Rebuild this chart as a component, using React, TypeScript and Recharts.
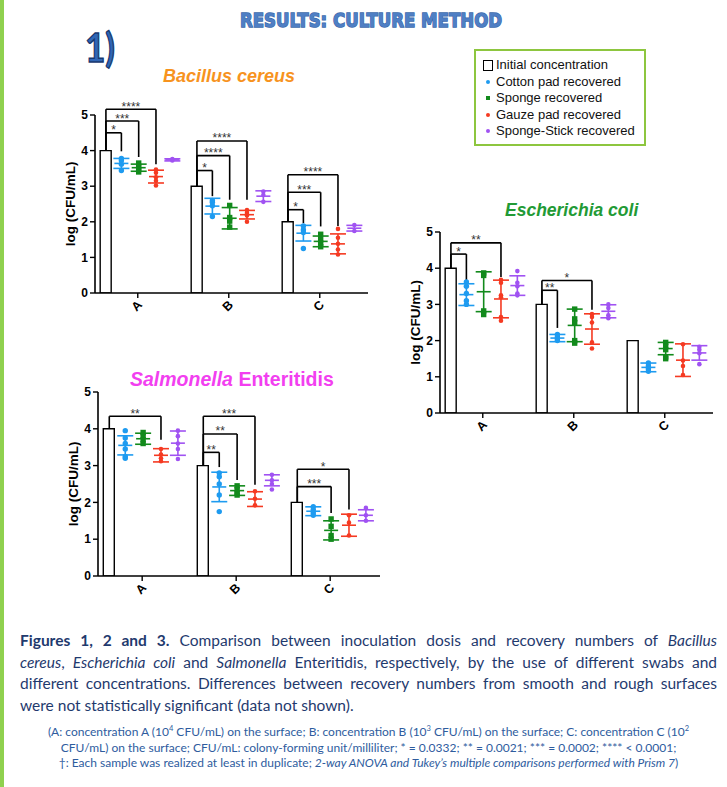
import React from 'react';
import { ComposedChart, Bar, Scatter, ErrorBar, XAxis, YAxis, ReferenceLine } from 'recharts';

const CATEGORIES = ['A', 'B', 'C'];
const INITIAL = [4, 3, 2];
const SWABS = ['Cotton pad recovered', 'Sponge recovered', 'Gauze pad recovered', 'Sponge-Stick recovered'];
const Y_TICKS = [0, 1, 2, 3, 4, 5];

// Bacillus cereus (replicates per concentration A, B, C)
const BC_COTTON = [[3.78, 3.72, 3.62, 3.44], [2.6, 2.55, 2.45, 2.15], [1.88, 1.78, 1.7, 1.25]];
const BC_COTTON_MEAN = [3.64, 2.44, 1.68];
const BC_COTTON_SD = [0.14, 0.22, 0.22];
const BC_SPONGE = [[3.65, 3.55, 3.48, 3.4], [2.46, 2.12, 2.02, 1.85], [1.65, 1.5, 1.4, 1.3]];
const BC_SPONGE_MEAN = [3.52, 2.1, 1.45];
const BC_SPONGE_SD = [0.1, 0.3, 0.15];
const BC_GAUZE = [[3.47, 3.38, 3.25, 3.15, 3.02], [2.33, 2.25, 2.18, 2.0], [1.8, 1.55, 1.38, 1.22, 1.08]];
const BC_GAUZE_MEAN = [3.27, 2.2, 1.38];
const BC_GAUZE_SD = [0.18, 0.12, 0.28];
const BC_STICK = [[3.76, 3.72], [2.85, 2.75, 2.56], [1.91, 1.74]];
const BC_STICK_MEAN = [3.74, 2.72, 1.82];
const BC_STICK_SD = [0.03, 0.15, 0.08];

// Escherichia coli
const EC_COTTON = [[3.62, 3.5, 3.3, 3.1, 3.0], [2.17, 2.1, 2.05, 2.0], [1.38, 1.3, 1.22, 1.15]];
const EC_COTTON_MEAN = [3.27, 2.07, 1.26];
const EC_COTTON_SD = [0.3, 0.1, 0.12];
const EC_SPONGE = [[3.87, 3.8, 2.82, 2.72], [2.87, 2.6, 2.5, 2.0, 1.93], [1.95, 1.85, 1.75, 1.55, 1.5]];
const EC_SPONGE_MEAN = [3.35, 2.42, 1.78];
const EC_SPONGE_SD = [0.55, 0.45, 0.17];
const EC_GAUZE = [[3.68, 3.6, 3.25, 3.2, 2.65, 2.55], [2.73, 2.65, 2.5, 1.95, 1.78], [1.9, 1.45, 1.3, 1.05]];
const EC_GAUZE_MEAN = [3.15, 2.32, 1.46];
const EC_GAUZE_SD = [0.52, 0.42, 0.45];
const EC_STICK = [[3.92, 3.6, 3.5, 3.3, 3.25], [3.0, 2.9, 2.7, 2.62], [1.83, 1.75, 1.65, 1.35]];
const EC_STICK_MEAN = [3.52, 2.81, 1.66];
const EC_STICK_SD = [0.27, 0.18, 0.2];

// Salmonella Enteritidis
const SE_COTTON = [[3.95, 3.75, 3.6, 3.45, 3.25, 3.2], [2.8, 2.7, 2.5, 2.2, 1.75], [1.88, 1.8, 1.72, 1.65]];
const SE_COTTON_MEAN = [3.55, 2.42, 1.76];
const SE_COTTON_SD = [0.26, 0.4, 0.12];
const SE_SPONGE = [[3.9, 3.8, 3.7, 3.6], [2.45, 2.35, 2.25, 2.2], [1.55, 1.35, 1.1, 1.0]];
const SE_SPONGE_MEAN = [3.73, 2.32, 1.24];
const SE_SPONGE_SD = [0.15, 0.13, 0.26];
const SE_GAUZE = [[3.45, 3.3, 3.2, 3.12], [2.3, 2.1, 1.92], [1.65, 1.45, 1.1]];
const SE_GAUZE_MEAN = [3.28, 2.09, 1.38];
const SE_GAUZE_SD = [0.18, 0.2, 0.3];
const SE_STICK = [[3.95, 3.8, 3.6, 3.45, 3.18], [2.75, 2.6, 2.5, 2.35], [1.85, 1.65, 1.5]];
const SE_STICK_MEAN = [3.61, 2.6, 1.65];
const SE_STICK_SD = [0.33, 0.15, 0.15];

// significance brackets: group, swab, bracket height, drop end, label
const BC_SIG = [
  { g: 0, s: 0, top: 4.5, end: 3.98, label: '*' },
  { g: 0, s: 1, top: 4.83, end: 3.82, label: '***' },
  { g: 0, s: 2, top: 5.16, end: 3.62, label: '****' },
  { g: 1, s: 0, top: 3.44, end: 2.72, label: '*' },
  { g: 1, s: 1, top: 3.86, end: 2.62, label: '****' },
  { g: 1, s: 2, top: 4.27, end: 2.62, label: '****' },
  { g: 2, s: 0, top: 2.34, end: 1.96, label: '*' },
  { g: 2, s: 1, top: 2.83, end: 1.87, label: '***' },
  { g: 2, s: 2, top: 3.32, end: 1.88, label: '****' },
];
const EC_SIG = [
  { g: 0, s: 0, top: 4.39, end: 3.64, label: '*' },
  { g: 0, s: 2, top: 4.7, end: 3.76, label: '**' },
  { g: 1, s: 0, top: 3.39, end: 2.35, label: '**' },
  { g: 1, s: 2, top: 3.66, end: 2.85, label: '*' },
];
const SE_SIG = [
  { g: 0, s: 2, top: 4.34, end: 3.7, label: '**' },
  { g: 1, s: 0, top: 3.36, end: 2.96, label: '**' },
  { g: 1, s: 1, top: 3.86, end: 2.61, label: '**' },
  { g: 1, s: 2, top: 4.34, end: 2.48, label: '***' },
  { g: 2, s: 1, top: 2.43, end: 1.71, label: '***' },
  { g: 2, s: 2, top: 2.9, end: 1.81, label: '*' },
];

const COLORS = ['#1E9BF0', '#128A1C', '#F53A22', '#A052F2'];
const FONT = '"Liberation Sans", Arial, sans-serif';
const GROUP = 5;
const SLOT_BAR = 0.6;
const SLOT_SWAB = [1.45, 2.4, 3.35, 4.25];
const SLOT_TICK = 2.35;
const X_TICKS = CATEGORIES.map((_, g) => g * GROUP + SLOT_TICK);

type Sig = { g: number; s: number; top: number; end: number; label: string };

const marker = (s: number) => (p: any) => {
  const { cx, cy } = p;
  if (s === 1) return <rect x={cx - 2.7} y={cy - 2.7} width={5.4} height={5.4} fill={COLORS[s]} />;
  return <circle cx={cx} cy={cy} r={s === 0 ? 2.7 : 2.3} fill={COLORS[s]} />;
};

const meanLine = (s: number) => (p: any) => (
  <line x1={p.cx - 7} x2={p.cx + 7} y1={p.cy} y2={p.cy} stroke={COLORS[s]} strokeWidth={1.6} />
);

const XTick = (p: any) => (
  <g transform={`translate(${p.x - 1},${p.y + 6})`}>
    <text textAnchor="middle" dominantBaseline="central" transform="rotate(-45)" fontSize={12.5}
      fontWeight={700} fill="#000" fontFamily={FONT}>
      {CATEGORIES[Math.floor(p.payload.value / GROUP)]}
    </text>
  </g>
);

const starLabel = (text: string) => (p: any) => {
  const vb = p.viewBox || {};
  return (
    <text x={vb.x + (vb.width || 0) / 2} y={vb.y + 1.5} textAnchor="middle" fontSize={12}
      fontFamily={FONT} fill="#333">
      {text}
    </text>
  );
};

function SwabChart(props: {
  left: number; top: number; width: number; height: number;
  points: number[][][]; means: number[][]; sds: number[][]; sig: Sig[];
}) {
  const { left, top, width, height, points, means, sds, sig } = props;
  const barRows = INITIAL.map((v, g) => ({ x: g * GROUP + SLOT_BAR, y: v }));
  const brackets: React.ReactNode[] = [];
  sig.forEach((b, i) => {
    const x0 = b.g * GROUP + SLOT_BAR;
    const x1 = b.g * GROUP + SLOT_SWAB[b.s];
    const common = { stroke: '#000', strokeWidth: 1.6, ifOverflow: 'visible' as const };
    brackets.push(<ReferenceLine key={`a${i}`} {...common} segment={[{ x: x0, y: INITIAL[b.g] }, { x: x0, y: b.top }]} />);
    brackets.push(
      <ReferenceLine key={`b${i}`} {...common} segment={[{ x: x0, y: b.top }, { x: x1, y: b.top }]}
        label={starLabel(b.label)} />
    );
    brackets.push(<ReferenceLine key={`c${i}`} {...common} segment={[{ x: x1, y: b.top }, { x: x1, y: b.end }]} />);
  });

  return (
    <div style={{ position: 'absolute', left, top }}>
      <ComposedChart width={width} height={height} data={barRows}
        margin={{ top: 25, right: 5, bottom: 0, left: 0 }} style={{ fontFamily: FONT }}>
        <XAxis type="number" dataKey="x" domain={[0, 15]} allowDataOverflow ticks={X_TICKS} interval={0}
          tick={(p: any) => <XTick {...p} />} tickSize={5} height={30}
          axisLine={{ stroke: '#000', strokeWidth: 1.6 }} tickLine={{ stroke: '#000', strokeWidth: 1.4 }} />
        <YAxis type="number" dataKey="y" domain={[0, 5]} allowDataOverflow ticks={Y_TICKS} interval={0}
          width={50} tickSize={5} tick={{ fontSize: 12, fontWeight: 700, fill: '#000', fontFamily: FONT }}
          axisLine={{ stroke: '#000', strokeWidth: 1.6 }} tickLine={{ stroke: '#000', strokeWidth: 1.4 }}
          label={{ value: 'log (CFU/mL)', angle: -90, position: 'center', fontSize: 13.5, fontWeight: 700, fill: '#000', fontFamily: FONT }} />
        <Bar dataKey="y" barSize={11} fill="#fff" stroke="#000" strokeWidth={1.4} isAnimationActive={false} />
        {SWABS.map((name, s) => (
          <Scatter key={`p${s}`} name={name} dataKey="y" isAnimationActive={false} shape={marker(s)}
            data={points[s].flatMap((vals, g) => vals.map((v) => ({ x: g * GROUP + SLOT_SWAB[s], y: v })))} />
        ))}
        {SWABS.map((name, s) => (
          <Scatter key={`m${s}`} name={`${name} mean`} dataKey="y" isAnimationActive={false} shape={meanLine(s)}
            data={means[s].map((m, g) => ({ x: g * GROUP + SLOT_SWAB[s], y: m, sd: sds[s][g] }))}>
            <ErrorBar dataKey="sd" direction="y" width={8} stroke={COLORS[s]} strokeWidth={1.6} />
          </Scatter>
        ))}
        {brackets}
      </ComposedChart>
    </div>
  );
}

const title = (left: number, top: number, size: number, color: string, children: React.ReactNode) => (
  <div style={{ position: 'absolute', left, top, fontSize: size, lineHeight: `${size * 1.15}px`, color, fontWeight: 700, fontFamily: FONT, whiteSpace: 'nowrap' }}>
    {children}
  </div>
);

const CAPTION_COLOR = '#1F3A6E';
const NOTE_COLOR = '#2E5C9E';

export default function App() {
  const capLine = { width: 697, textAlign: 'justify' as const, textAlignLast: 'justify' as const, height: 21.7 };
  const sup = { fontSize: 7.5 };
  return (
    <div style={{ position: 'absolute', left: 0, top: 0, width: 727, height: 787, background: '#fff', overflow: 'hidden' }}>
      <div style={{ position: 'absolute', left: 0, top: 0, width: 4, height: 787, background: '#8FD14F' }} />

      <svg width={727} height={80} style={{ position: 'absolute', left: 0, top: 0 }}>
        <text x={240} y={27} fontSize={20} fontWeight={700} fontFamily='"DejaVu Sans", sans-serif' textLength={262}
          lengthAdjust="spacingAndGlyphs" fill="#4F7FC4" stroke="#3A67AA" strokeWidth={1.4} paintOrder="stroke">
          RESULTS: CULTURE METHOD
        </text>
        <text x={85} y={62} fontSize={41} fontWeight={700} fontFamily="Lato, sans-serif" textLength={30}
          lengthAdjust="spacingAndGlyphs" fill="#3066B5" stroke="#17386F" strokeWidth={1.4}>
          1)
        </text>
      </svg>

      {title(163, 66, 18, '#F7931E', <i>Bacillus cereus</i>)}
      {title(505, 200, 17.5, '#229A35', <i>Escherichia coli</i>)}
      {title(130, 368, 19.5, '#F23FF0', <><i>Salmonella</i> Enteritidis</>)}

      <div style={{ position: 'absolute', left: 474, top: 49, width: 168, height: 93, border: '2px solid #8DC63F', fontFamily: FONT, fontSize: 13, color: '#111' }}>
        {['Initial concentration', ...SWABS].map((name, i) => (
          <div key={name} style={{ position: 'absolute', left: 20, top: 6 + i * 16.6, lineHeight: '16px', whiteSpace: 'nowrap' }}>
            <span style={{ position: 'absolute', left: i === 0 ? -13 : -10, top: i === 0 ? 3 : 6 }}>
              {i === 0 ? (
                <span style={{ display: 'block', width: 8, height: 9, border: '1px solid #000', background: '#fff' }} />
              ) : (
                <span style={{ display: 'block', width: 4, height: 4, borderRadius: i === 2 ? 0 : 2, background: COLORS[i - 1] }} />
              )}
            </span>
            {name}
          </div>
        ))}
      </div>

      <SwabChart left={45} top={90} width={328} height={233}
        points={[BC_COTTON, BC_SPONGE, BC_GAUZE, BC_STICK]}
        means={[BC_COTTON_MEAN, BC_SPONGE_MEAN, BC_GAUZE_MEAN, BC_STICK_MEAN]}
        sds={[BC_COTTON_SD, BC_SPONGE_SD, BC_GAUZE_SD, BC_STICK_SD]} sig={BC_SIG} />
      <SwabChart left={390} top={207} width={328} height={236}
        points={[EC_COTTON, EC_SPONGE, EC_GAUZE, EC_STICK]}
        means={[EC_COTTON_MEAN, EC_SPONGE_MEAN, EC_GAUZE_MEAN, EC_STICK_MEAN]}
        sds={[EC_COTTON_SD, EC_SPONGE_SD, EC_GAUZE_SD, EC_STICK_SD]} sig={EC_SIG} />
      <SwabChart left={48} top={367} width={337} height={239}
        points={[SE_COTTON, SE_SPONGE, SE_GAUZE, SE_STICK]}
        means={[SE_COTTON_MEAN, SE_SPONGE_MEAN, SE_GAUZE_MEAN, SE_STICK_MEAN]}
        sds={[SE_COTTON_SD, SE_SPONGE_SD, SE_GAUZE_SD, SE_STICK_SD]} sig={SE_SIG} />

      <div style={{ position: 'absolute', left: 20, top: 630, fontFamily: 'Lato, sans-serif', fontSize: 15.5, lineHeight: '21.7px', color: CAPTION_COLOR }}>
        <div style={capLine}><b>Figures 1, 2 and 3.</b> Comparison between inoculation dosis and recovery numbers of <i>Bacillus</i></div>
        <div style={capLine}><i>cereus</i>, <i>Escherichia coli</i> and <i>Salmonella</i> Enteritidis, respectively, by the use of different swabs and</div>
        <div style={capLine}>different concentrations. Differences between recovery numbers from smooth and rough surfaces</div>
        <div style={{ height: 21.7 }}>were not statistically significant (data not shown).</div>
      </div>

      <div style={{ position: 'absolute', left: 15, top: 721, width: 707, textAlign: 'center', fontFamily: 'Lato, sans-serif', fontSize: 12, lineHeight: '15.5px', color: NOTE_COLOR, whiteSpace: 'nowrap' }}>
        <div>(A: concentration A (10<sup style={sup}>4</sup> CFU/mL) on the surface; B: concentration B (10<sup style={sup}>3</sup> CFU/mL) on the surface; C: concentration C (10<sup style={sup}>2</sup></div>
        <div>CFU/mL) on the surface; CFU/mL: colony-forming unit/milliliter; * = 0.0332; ** = 0.0021; *** = 0.0002; **** &lt; 0.0001;</div>
        <div>†: Each sample was realized at least in duplicate; <i>2-way ANOVA and Tukey’s multiple comparisons performed with Prism 7</i>)</div>
      </div>
    </div>
  );
}
